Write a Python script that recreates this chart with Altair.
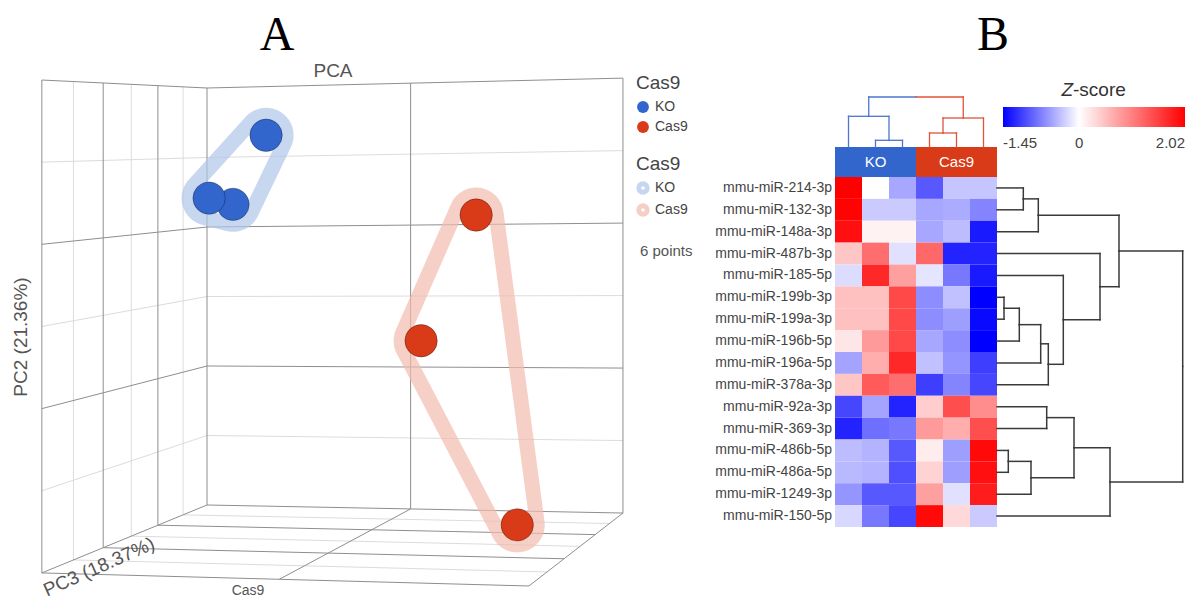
import math
import altair as alt
import pandas as pd

# ---------------- Panel A : PCA (3D) ----------------
samples = ["KO-1", "KO-2", "KO-3", "Cas9-1", "Cas9-2", "Cas9-3"]
sample_group = ["KO", "KO", "KO", "Cas9", "Cas9", "Cas9"]
group_names = ["KO", "Cas9"]
pc1 = [-15.2, -27.0, -25.3, 20.2, 8.3, 33.7]
pc2 = [22.9, 14.7, 13.7, 12.0, -4.9, -25.2]
pc3 = [0.0, -3.0, -9.0, -6.0, -12.0, 15.0]
pc1_limits = [-40, 40]
pc2_limits = [-30, 30]
pc3_limits = [-30, 30]
pc1_major = [0]
pc2_major = [-10, 10]
pc2_minor = [-20, 0, 20]
pc3_major = [-10, 10]
pc3_minor = [-20, 0, 20]
pca_title = "PCA"
pc1_title = "Cas9"
pc2_title = "PC2 (21.36%)"
pc3_title = "PC3 (18.37%)"
legend_title = "Cas9"

# ---------------- Panel B : heatmap ----------------
genes = ["mmu-miR-214-3p", "mmu-miR-132-3p", "mmu-miR-148a-3p", "mmu-miR-487b-3p",
         "mmu-miR-185-5p", "mmu-miR-199b-3p", "mmu-miR-199a-3p", "mmu-miR-196b-5p",
         "mmu-miR-196a-5p", "mmu-miR-378a-3p", "mmu-miR-92a-3p", "mmu-miR-369-3p",
         "mmu-miR-486b-5p", "mmu-miR-486a-5p", "mmu-miR-1249-3p", "mmu-miR-150-5p"]
z_ko_1 = [2.02, 2.00, 1.90, 0.45, -0.20, 0.50, 0.50, 0.20, -0.52, 0.45, -1.05, -1.25, -0.38, -0.40, -0.60, -0.23]
z_ko_2 = [0.00, -0.30, 0.10, 1.15, 1.70, 0.50, 0.50, 0.80, 0.65, 1.30, -0.52, -0.82, -0.43, -0.43, -0.95, -0.77]
z_ko_3 = [-0.50, -0.30, 0.10, -0.17, 0.75, 1.45, 1.45, 1.45, 1.70, 1.15, -1.25, -0.77, -0.95, -1.00, -0.95, -1.05]
z_cas_1 = [-0.95, -0.50, -0.50, 1.20, -0.15, -0.65, -0.65, -0.50, -0.35, -1.10, 0.40, 0.80, 0.15, 0.35, 0.75, 1.95]
z_cas_2 = [-0.33, -0.48, -0.38, -1.25, -0.77, -0.35, -0.55, -0.65, -0.60, -0.70, 1.40, 0.65, -0.55, -0.55, -0.17, 0.30]
z_cas_3 = [-0.33, -0.70, -1.30, -1.25, -1.30, -1.45, -1.40, -1.45, -1.10, -1.05, 0.90, 1.40, 1.95, 1.90, 1.80, -0.30]
heat_columns = [z_ko_1, z_ko_2, z_ko_3, z_cas_1, z_cas_2, z_cas_3]
# linkage rows: [child a, child b, merge height]
col_linkage = [[1, 2, 0.67], [0, 6, 3.07], [3, 4, 1.40], [8, 5, 2.90], [7, 9, 5.00]]
row_linkage = [[0, 1, 2.63], [16, 2, 4.13], [5, 6, 0.70], [18, 7, 2.23], [19, 8, 4.37],
               [20, 9, 5.13], [4, 21, 6.63], [3, 22, 10.30], [17, 23, 12.20], [10, 11, 4.97],
               [12, 13, 1.13], [26, 14, 3.40], [25, 27, 7.70], [28, 15, 11.30], [24, 29, 18.57]]
zscore_title = ["Z", "-score"]

# ---------------- styles ----------------
FONT = "Liberation Sans"
KO_COLOR, CAS_COLOR = "#3266cc", "#d93a17"
HULL_KO, HULL_CAS = "#b0c6ea", "#f2bcae"
DEN_KO, DEN_CAS = "#4a76cf", "#e0533a"
GRID_MINOR, GRID_MAJOR = "#dcdcdc", "#8e8e8e"
TXT = "#555555"


def project(u, v, w):
    """perspective view of the unit cube (u: PC1, v: PC2, w: PC3 toward viewer)"""
    den = 1.0 - 0.0412 * u - 0.154 * w
    sx = (207.0 + 390.3 * u - 171.6 * w) / den
    sy = (505.0 - 13.1 * u - 417.0 * v - 20.3 * w) / den
    return sx, sy


def nrm(val, lim):
    return (val - lim[0]) / (lim[1] - lim[0])


grid = []


def seg(p, q, kind):
    x1, y1 = project(*p)
    x2, y2 = project(*q)
    grid.append(dict(x=x1, y=y1, x2=x2, y2=y2, kind=kind))


for kind, t1, t2, t3 in [("minor", [], pc2_minor, pc3_minor), ("major", pc1_major, pc2_major, pc3_major)]:
    for t in t1:
        u = nrm(t, pc1_limits)
        seg((u, 0, 0), (u, 1, 0), kind)
        seg((u, 0, 0), (u, 0, 1), kind)
    for t in t2:
        v = nrm(t, pc2_limits)
        seg((0, v, 0), (1, v, 0), kind)
        seg((0, v, 0), (0, v, 1), kind)
    for t in t3:
        w = nrm(t, pc3_limits)
        seg((0, 0, w), (0, 1, w), kind)
        seg((0, 0, w), (1, 0, w), kind)
for p, q in [((0, 0, 0), (1, 0, 0)), ((1, 0, 0), (1, 1, 0)), ((1, 1, 0), (0, 1, 0)), ((0, 1, 0), (0, 0, 0)),
             ((0, 1, 0), (0, 1, 1)), ((0, 1, 1), (0, 0, 1)), ((0, 0, 1), (0, 0, 0)),
             ((0, 0, 1), (1, 0, 1)), ((1, 0, 1), (1, 0, 0))]:
    seg(p, q, "major")
grid_df = pd.DataFrame(grid)

rows = []
for s, g, a, b, c in zip(samples, sample_group, pc1, pc2, pc3):
    u, v, w = nrm(a, pc1_limits), nrm(b, pc2_limits), nrm(c, pc3_limits)
    sx, sy = project(u, v, w)
    rows.append(dict(sample=s, group=g, x=sx, y=sy, depth=w))
pts_df = pd.DataFrame(rows).sort_values("depth")


def convex_hull(pts):
    pts = sorted(set(pts))
    if len(pts) <= 2:
        return pts

    def cross(o, a, b):
        return (a[0] - o[0]) * (b[1] - o[1]) - (a[1] - o[1]) * (b[0] - o[0])
    lower, upper = [], []
    for p in pts:
        while len(lower) >= 2 and cross(lower[-2], lower[-1], p) <= 0:
            lower.pop()
        lower.append(p)
    for p in reversed(pts):
        while len(upper) >= 2 and cross(upper[-2], upper[-1], p) <= 0:
            upper.pop()
        upper.append(p)
    return lower[:-1] + upper[:-1]


def rounded_outline(hull, R, n=24):
    cx = sum(p[0] for p in hull) / len(hull)
    cy = sum(p[1] for p in hull) / len(hull)

    def normal(a, b):
        dx, dy = b[0] - a[0], b[1] - a[1]
        L = math.hypot(dx, dy)
        nx, ny = dy / L, -dx / L
        mx, my = (a[0] + b[0]) / 2, (a[1] + b[1]) / 2
        if (mx - cx) * nx + (my - cy) * ny < 0:
            nx, ny = -nx, -ny
        return nx, ny
    out = []
    m = len(hull)
    for i in range(m):
        p, c, q = hull[i - 1], hull[i], hull[(i + 1) % m]
        n1, n2 = normal(p, c), normal(c, q)
        a0 = math.atan2(n1[1], n1[0])
        a1 = math.atan2(n2[1], n2[0])
        da = (a1 - a0 + math.pi) % (2 * math.pi) - math.pi
        for k in range(n + 1):
            a = a0 + da * k / n
            out.append((c[0] + R * math.cos(a), c[1] + R * math.sin(a)))
    out.append(out[0])
    return out


hull_rows = []
for g in group_names:
    sub = pts_df[pts_df.group == g]
    outline = rounded_outline(convex_hull(list(zip(sub.x, sub.y))), 20)
    for i, (hx_, hy_) in enumerate(outline):
        hull_rows.append(dict(cluster=g, i=i, x=hx_, y=hy_))
hull_df = pd.DataFrame(hull_rows)

# ---------------- scales ----------------
PX = alt.Scale(domain=[8, 1187], range=[0, 1179], nice=False, zero=False)
PY = alt.Scale(domain=[8, 599], range=[0, 591], nice=False, zero=False)
fill_scale = alt.Scale(domain=group_names, range=[KO_COLOR, CAS_COLOR])
# hull scale lists the groups in reverse so Vega-Lite keeps its legend apart from the point legend
hull_scale = alt.Scale(domain=group_names[::-1], range=[HULL_CAS, HULL_KO])
fill_legend = alt.Legend(title=legend_title, orient="none", legendX=628, legendY=66, direction="vertical",
                         titleFontSize=19, titleFontWeight="normal", titleColor="#444", titlePadding=7,
                         labelFontSize=14, labelColor="#444", labelOffset=5, symbolType="circle",
                         symbolSize=140, rowPadding=6, symbolStrokeWidth=0)
stroke_legend = alt.Legend(title=legend_title, orient="none", legendX=628, legendY=147, direction="vertical",
                           values=group_names,
                           titleFontSize=19, titleFontWeight="normal", titleColor="#444", titlePadding=7,
                           labelFontSize=14, labelColor="#444", labelOffset=5, symbolType="circle",
                           symbolSize=70, symbolStrokeWidth=5, rowPadding=-8)

px = lambda f: alt.X(f, scale=PX, axis=None)
py = lambda f: alt.Y(f, scale=PY, axis=None)

grid_minor = alt.Chart(grid_df).transform_filter("datum.kind == 'minor'").mark_rule(
    color=GRID_MINOR, strokeWidth=1).encode(x=px("x:Q"), y=py("y:Q"), x2="x2:Q", y2="y2:Q")
grid_major = alt.Chart(grid_df).transform_filter("datum.kind == 'major'").mark_rule(
    color=GRID_MAJOR, strokeWidth=1).encode(x=px("x:Q"), y=py("y:Q"), x2="x2:Q", y2="y2:Q")
hulls = alt.Chart(hull_df).mark_line(strokeJoin="round", strokeCap="round", opacity=0.7).encode(
    x=px("x:Q"), y=py("y:Q"), order="i:Q", strokeWidth=alt.value(15),
    stroke=alt.Stroke("cluster:N", scale=hull_scale, legend=stroke_legend))
points = alt.Chart(pts_df).mark_circle(size=1050, opacity=1, stroke="#000000", strokeOpacity=0.3,
                                       strokeWidth=1).encode(
    x=px("x:Q"), y=py("y:Q"), order="depth:Q",
    fill=alt.Fill("group:N", scale=fill_scale, legend=fill_legend))


def label(text, x, y, size, color=TXT, angle=0, font=FONT, align="center", baseline="middle", style="normal"):
    return alt.Chart(pd.DataFrame({"t": [text]})).mark_text(
        fontSize=size, color=color, angle=angle, font=font, align=align, baseline=baseline,
        fontStyle=style).encode(x=alt.value(x - 8), y=alt.value(y - 8), text="t:N")


annotations = [
    label("A", 277, 50, 48, color="#000", font="Liberation Serif", baseline="alphabetic"),
    label("B", 993, 50, 48, color="#000", font="Liberation Serif", baseline="alphabetic"),
    label(pca_title, 333, 71, 19),
    label(pc2_title, 21, 337, 19, angle=270),
    label(pc3_title, 99, 567, 19, angle=336),
    label(pc1_title, 248, 591, 14),
    label(f"{len(samples)} points", 640, 251, 15, align="left"),
    label(zscore_title[0], 1073, 90, 19, color="#333", align="right", style="italic"),
    label(zscore_title[1], 1073, 90, 19, color="#333", align="left"),
]

panel_a = alt.layer(grid_minor, grid_major, hulls, points, *annotations)

# ---------------- heatmap panel ----------------
ROW_PX = 350 / len(genes)
COL_PX = 162 / len(samples)
HDR = 30 / ROW_PX
UNIT_PX = 10.0
HX = alt.Scale(domain=[0, len(samples)], range=[827, 989], nice=False, zero=False)
HY = alt.Scale(domain=[0, len(genes)], range=[169, 519], nice=False, zero=False)
hx = lambda f: alt.X(f, scale=HX, axis=None)
hy = lambda f: alt.Y(f, scale=HY, axis=None)

cells = []
for ci, col in enumerate(heat_columns):
    for ri, z in enumerate(col):
        cells.append(dict(sample=samples[ci], gene=genes[ri], c0=ci, c1=ci + 1, r0=ri, r1=ri + 1, z=z))
cell_df = pd.DataFrame(cells)
zmin, zmax = float(cell_df.z.min()), float(cell_df.z.max())

heat = alt.Chart(cell_df).mark_rect().encode(
    x=hx("c0:Q"), x2="c1:Q", y=hy("r0:Q"), y2="r1:Q",
    color=alt.Color("z:Q", scale=alt.Scale(domain=[zmin, 0, zmax], range=["#0000ff", "#ffffff", "#ff0000"],
                                           interpolate="rgb"),
                    legend=alt.Legend(title=None, orient="none", legendX=995, legendY=99,
                                      direction="horizontal", gradientLength=182, gradientThickness=20,
                                      values=[zmin, 0, zmax], labelExpr="'' + datum.value",
                                      labelFontSize=15, labelColor="#444", labelOffset=9)))

hdr_rows = []
for g in group_names:
    idx = [i for i, sg in enumerate(sample_group) if sg == g]
    hdr_rows.append(dict(group=g, c0=min(idx), c1=max(idx) + 1, cm=(min(idx) + max(idx) + 1) / 2,
                         r0=-HDR, r1=0, rm=-HDR / 2))
hdr_df = pd.DataFrame(hdr_rows)
header = alt.Chart(hdr_df).mark_rect().encode(
    x=hx("c0:Q"), x2="c1:Q", y=hy("r0:Q"), y2="r1:Q",
    fill=alt.Fill("group:N", scale=fill_scale, legend=fill_legend))
header_text = alt.Chart(hdr_df).mark_text(color="white", fontSize=15, font=FONT).encode(
    x=hx("cm:Q"), y=hy("rm:Q"), text="group:N")

gene_df = pd.DataFrame({"gene": genes, "lx": 0.0, "ly": [i + 0.5 for i in range(len(genes))]})
gene_labels = alt.Chart(gene_df).mark_text(align="right", baseline="middle", dx=-3, fontSize=14,
                                           color="#444", font=FONT).encode(
    x=hx("lx:Q"), y=hy("ly:Q"), text="gene:N")


def dendro(linkage, n, leaf_grp):
    pos = {i: i + 0.5 for i in range(n)}
    hgt = {i: 0.0 for i in range(n)}
    grp = {i: leaf_grp[i] for i in range(n)}
    out = []
    for k, (a, b, h) in enumerate(linkage):
        mid = (pos[a] + pos[b]) / 2
        out.append(dict(p1=pos[a], h1=hgt[a], p2=pos[a], h2=h, grp=grp[a]))
        out.append(dict(p1=pos[b], h1=hgt[b], p2=pos[b], h2=h, grp=grp[b]))
        out.append(dict(p1=pos[a], h1=h, p2=mid, h2=h, grp=grp[a]))
        out.append(dict(p1=mid, h1=h, p2=pos[b], h2=h, grp=grp[b]))
        node = n + k
        pos[node], hgt[node] = mid, h
        grp[node] = grp[a] if grp[a] == grp[b] else "mixed"
    return pd.DataFrame(out)


top_df = dendro(col_linkage, len(samples), sample_group)
top_df["x"], top_df["x2"] = top_df.p1, top_df.p2
top_df["y"] = -HDR - top_df.h1 * UNIT_PX / ROW_PX
top_df["y2"] = -HDR - top_df.h2 * UNIT_PX / ROW_PX
right_df = dendro(row_linkage, len(genes), ["all"] * len(genes))
right_df["y"], right_df["y2"] = right_df.p1, right_df.p2
right_df["x"] = len(samples) + right_df.h1 * UNIT_PX / COL_PX
right_df["x2"] = len(samples) + right_df.h2 * UNIT_PX / COL_PX

top_layers = [
    alt.Chart(top_df).transform_filter(f"datum.grp == '{g}'").mark_rule(
        color=c, strokeWidth=1.3, strokeCap="square").encode(x=hx("x:Q"), x2="x2:Q", y=hy("y:Q"), y2="y2:Q")
    for g, c in [("KO", DEN_KO), ("Cas9", DEN_CAS)]
]
right_dendro = alt.Chart(right_df).mark_rule(color="#3a3a3a", strokeWidth=1.5, strokeCap="square").encode(
    x=hx("x:Q"), x2="x2:Q", y=hy("y:Q"), y2="y2:Q")

panel_b = alt.layer(heat, header, header_text, gene_labels, *top_layers, right_dendro)

chart = alt.layer(panel_a, panel_b).resolve_scale(x="independent", y="independent").properties(
    width=1179, height=591, padding=0, autosize=alt.AutoSizeParams(type="none"),
    background="white").configure(font=FONT).configure_view(stroke=None)

chart.save("out.html", embed_options={"renderer": "svg", "actions": False})
